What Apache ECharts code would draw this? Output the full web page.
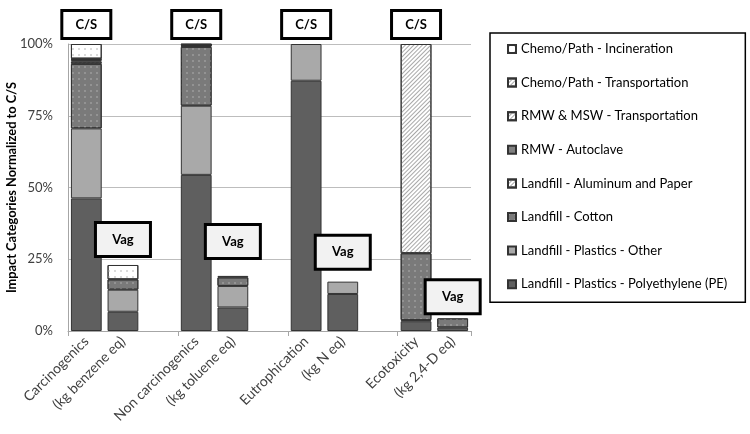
<!DOCTYPE html>
<html>
<head>
<meta charset="utf-8">
<script src="https://cdn.jsdelivr.net/npm/echarts@6/dist/echarts.min.js"></script>
<style>html,body{margin:0;padding:0;background:#fff}#c{width:750px;height:434px}</style>
</head>
<body>
<div id="c"></div>
<script>
// Categories (blank entries separate the groups)
const categories = ['Carcinogenics','(kg benzene eq)','','Non carcinogenics','(kg toluene eq)','','Eutrophication','(kg N eq)','','Ecotoxicity','(kg 2,4-D eq)'];
const boxLabels   = ['C/S','Vag',null,'C/S','Vag',null,'C/S','Vag',null,'C/S','Vag'];
const yTicks = [0,25,50,75,100];

// Series values (% normalized to C/S), bottom to top of the stack
const pe          = [46.2, 6.7, null, 54.4, 8.2, null, 87.2, 12.9, null, 3.4, 1.2];
const plasticsOth = [24.4, 7.7, null, 24.1, 7.5, null, 12.8, 4.3, null, 0.4, null];
const cotton      = [22.5, 3.6, null, 20.5, 3.0, null, null, null, null, 23.3, 3.2];
const aluminum    = [0.7, null, null, 0.4, null, null, null, null, null, null, null];
const autoclave   = [0.6, null, null, 0.2, 0.5, null, null, null, null, null, null];
const rmwTransp   = [0.3, null, null, 0.1, null, null, null, null, null, null, null];
const chemoTransp = [0.2, null, null, 0.1, null, null, null, null, null, 72.9, null];
const incinerate  = [5.1, 5.0, null, 0.2, null, null, null, null, null, null, null];

const seriesNames = [
  'Landfill - Plastics - Polyethylene (PE)',
  'Landfill - Plastics - Other',
  'Landfill - Cotton',
  'Landfill - Aluminum and Paper',
  'RMW - Autoclave',
  'RMW & MSW - Transportation',
  'Chemo/Path - Transportation',
  'Chemo/Path - Incineration'
];
const seriesData = [pe, plasticsOth, cotton, aluminum, autoclave, rmwTransp, chemoTransp, incinerate];

const dots = {symbol:'rect', symbolSize:1, dashArrayX:[1.5,3.5], dashArrayY:[1.5,3.5], color:'rgba(150,150,150,0.9)'};
const lightDots = {symbol:'rect', symbolSize:1, dashArrayX:[1.5,3.5], dashArrayY:[1.5,3.5], color:'rgba(215,215,215,0.9)'};
const hatch = {symbol:'rect', symbolSize:1, dashArrayX:[1,0], dashArrayY:[1,2], rotation:-Math.PI/4, color:'#a8a8a8'};
const styles = [
  {color:'#5f5f5f'},
  {color:'#a9a9a9'},
  {color:'#7a7a7a', decal:dots},
  {color:'#ffffff', decal:hatch},
  {color:'#808080'},
  {color:'#ffffff', decal:hatch},
  {color:'#ffffff', decal:hatch},
  {color:'#ffffff', decal:lightDots}
];

const series = seriesData.map((d,i)=>({
  name: seriesNames[i],
  type:'bar',
  stack:'total',
  data:d,
  barCategoryGap:'16%',
  itemStyle: Object.assign({borderColor:'#333', borderWidth:1}, styles[i])
}));

// totals for label boxes
const totals = categories.map((c,j)=>seriesData.reduce((s,a)=>s+(a[j]||0),0));
const boxDist = [7, 10, 0, 7, 19, 0, 7, 14, 0, 7, 6];
const boxData = [];
categories.forEach((c,j)=>{
  if(!boxLabels[j]) return;
  const isCS = boxLabels[j]==='C/S';
  boxData.push({
    value:[j, totals[j]],
    label:{
      show:true, position:'top', distance:boxDist[j],
      formatter: boxLabels[j],
      backgroundColor: isCS ? '#ffffff' : '#f2f2f2',
      borderColor:'#000000', borderWidth:3, opacity:1,
      textBorderWidth:0, textBorderColor:'transparent', shadowBlur:0, textShadowBlur:0,
      fontFamily:'Lato', fontWeight:'bold', fontSize:13, color:'#000',
      width: isCS ? 42 : 46, height: isCS ? 21 : 25, lineHeight: isCS ? 21 : 25,
      align:'center',
      padding: isCS ? [2,2] : [3,3]
    }
  });
});
series.push({
  type:'scatter', name:'boxes', symbolSize:0, data:boxData, silent:true, z:10,
  itemStyle:{opacity:1, color:'#000'},
  emphasis:{disabled:true}
});

const chart = echarts.init(document.getElementById('c'), null, {renderer:'canvas'});
chart.setOption({
  animation:false,
  backgroundColor:'#fff',
  grid:{left:68, right:279, top:44, bottom:103, containLabel:false, outerBoundsMode:'none'},
  legend:{
    data: seriesNames.slice().reverse(),
    orient:'vertical', left:490, top:33,
    icon:'rect',
    itemWidth:8, itemHeight:8, itemGap:17.6,
    padding:[8, 18, 10, 17],
    borderColor:'#000', borderWidth:1.5,
    selectedMode:false,
    textStyle:{fontFamily:'Lato', fontSize:13, color:'#000', lineHeight:16}
  },
  xAxis:{
    type:'category', data:categories,
    axisLine:{lineStyle:{color:'#a6a6a6'}},
    axisTick:{show:true, interval:(i)=>i%3===0, length:5, lineStyle:{color:'#a6a6a6'}},
    axisLabel:{interval:0, rotate:45, margin:8, fontFamily:'Lato', fontSize:14, color:'#404040'}
  },
  yAxis:{
    type:'value', min:0, max:100, interval:25,
    name:'Impact Categories Normalized to C/S', nameLocation:'middle', nameGap:50,
    nameMoveOverlap:false,
    nameTextStyle:{fontFamily:'Lato', fontWeight:'bold', fontSize:12.8, color:'#000'},
    axisLine:{show:true, lineStyle:{color:'#a6a6a6'}},
    axisTick:{show:false},
    axisLabel:{formatter:(v)=>yTicks.includes(v)?v+'%':'', fontFamily:'Lato', fontSize:13, color:'#404040', margin:15},
    splitLine:{lineStyle:{color:'#bdbdbd'}}
  },
  series: series
});
</script>
</body>
</html>
